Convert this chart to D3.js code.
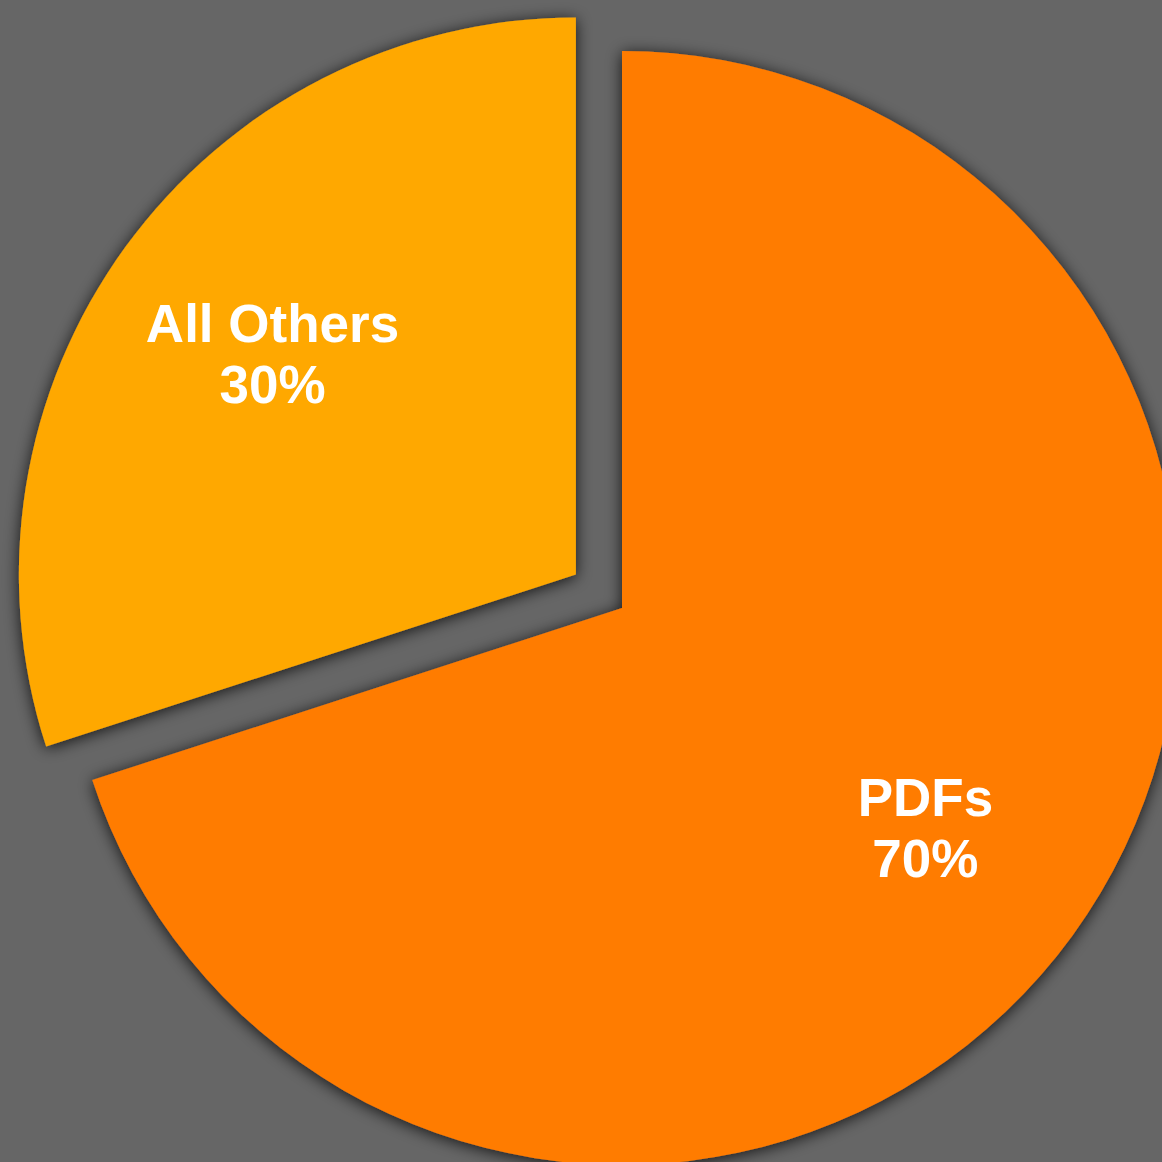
<!DOCTYPE html>
<html>
<head>
<meta charset="utf-8">
<script src="https://cdn.jsdelivr.net/npm/d3@7"></script>
<style>
html,body{margin:0;padding:0;background:#666666;}
svg{display:block;}
</style>
</head>
<body>
<svg id="chart" width="1162" height="1162"></svg>
<script>
const categories = ["PDFs", "All Others"];
const values = [70, 30];
const labels = ["70%", "30%"];
const colors = ["#FF7B00", "#FFA800"];
const explode = [0, 57];

const W = 1162, H = 1162;
const cx = 622, cy = 608, R = 557;

const svg = d3.select("#chart");
svg.append("rect").attr("width", W).attr("height", H).attr("fill", "#666666");

const defs = svg.append("defs");
const f = defs.append("filter").attr("id", "shadow")
  .attr("x", "-20%").attr("y", "-20%").attr("width", "140%").attr("height", "140%");
f.append("feDropShadow").attr("dx", 0).attr("dy", 2).attr("stdDeviation", 8)
  .attr("flood-color", "#000").attr("flood-opacity", 0.8);

const pie = d3.pie().sort(null).value(d => d.v).startAngle(0).endAngle(2 * Math.PI);
const data = pie(categories.map((c, i) => ({ c, v: values[i], i })));
const arc = d3.arc().innerRadius(0).outerRadius(R);
const labelR = 375;

const g = svg.append("g").attr("transform", `translate(${cx},${cy})`);

const slices = g.selectAll("g.slice").data(data).join("g").attr("class", "slice")
  .attr("transform", d => {
    const m = (d.startAngle + d.endAngle) / 2;
    const off = explode[d.data.i];
    return `translate(${off * Math.sin(m)},${-off * Math.cos(m)})`;
  });

slices.append("path")
  .attr("d", arc)
  .attr("fill", d => colors[d.data.i])
  .attr("filter", "url(#shadow)");

const txt = slices.append("text")
  .attr("transform", d => {
    const m = (d.startAngle + d.endAngle) / 2;
    return `translate(${labelR * Math.sin(m)},${-labelR * Math.cos(m)})`;
  })
  .attr("text-anchor", "middle")
  .attr("fill", "#ffffff")
  .attr("font-family", "'Liberation Sans', Arial, Helvetica, sans-serif")
  .attr("font-weight", "bold")
  .attr("font-size", 53);

txt.append("tspan").attr("x", 0).attr("y", -12).text(d => d.data.c);
txt.append("tspan").attr("x", 0).attr("y", 49).text(d => labels[d.data.i]);
</script>
</body>
</html>
